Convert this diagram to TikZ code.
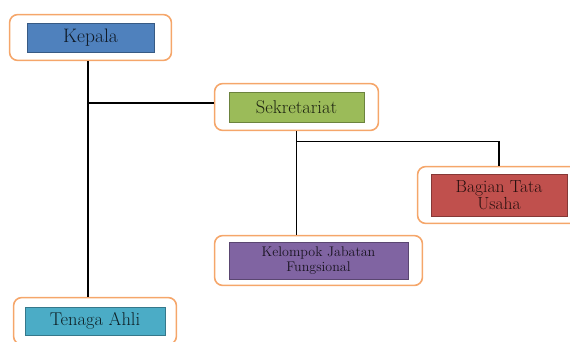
\documentclass[tikz,border=0pt]{standalone}
\usepackage{fontspec}
\usepackage{tikz}
\usetikzlibrary{fit,positioning,calc}
\definecolor{framecol}{HTML}{F5A66A}
\definecolor{kepcol}{HTML}{4F81BD}
\definecolor{sekcol}{HTML}{9BBB59}
\definecolor{bagcol}{HTML}{C0504D}
\definecolor{kelcol}{HTML}{8064A2}
\definecolor{tencol}{HTML}{4BACC6}
\tikzset{
  unit/.style={draw=#1!70!black,fill=#1,line width=0.8pt,text=#1!20!black,
    inner sep=0pt,align=center},
  frame/.style={draw=framecol,line width=1.6pt,rounded corners=8pt,
    inner xsep=14pt,inner ysep=8pt},
  link/.style={line width=1.2pt,black}
}
\begin{document}
\begin{tikzpicture}[x=1pt,y=-1pt]
    \useasboundingbox (0,0) rectangle (570,341);
    \clip (0,0) rectangle (570,341);
    % boxes
    \node[unit=kepcol,minimum width=127pt,minimum height=29pt,font=\fontsize{19.5}{21}\selectfont] (kepala) at (90.5,37.5) {Kepala};
    \node[unit=sekcol,minimum width=135pt,minimum height=30pt,font=\fontsize{18.5}{20}\selectfont] (sekr) at (296.5,107) {Sekretariat};
    \node[unit=bagcol,minimum width=136pt,minimum height=42pt,font=\fontsize{17.5}{17.5}\selectfont] (bagian) at (499,195) {Bagian Tata\\Usaha};
    \node[unit=kelcol,minimum width=179pt,minimum height=37pt,font=\fontsize{14}{15}\selectfont] (kelompok) at (318.5,260.5) {Kelompok Jabatan\\Fungsional};
    \node[unit=tencol,minimum width=140pt,minimum height=28pt,font=\fontsize{18.5}{20}\selectfont] (tenaga) at (95,321) {Tenaga Ahli};
    % frames
    \node[frame,inner xsep=17pt,fit=(kepala)] (kepalaF) {};
    \node[frame,fit=(sekr)] (sekrF) {};
    \node[frame,inner xsep=13pt,inner ysep=7pt,fit=(bagian)] (bagianF) {};
    \node[frame,inner ysep=6pt,fit=(kelompok)] (kelompokF) {};
    \node[frame,inner xsep=11pt,inner ysep=9pt,fit=(tenaga)] (tenagaF) {};
    % lines
    \coordinate (spine) at (88,0);
    \draw[link] (kepalaF.south -| spine) -- (tenagaF.north -| spine);
    \draw[link] (spine |- sekrF.west) ++(0,-4) -- ([yshift=4pt]sekrF.west);
    \draw[link] (sekrF.south) -- (sekrF.south |- kelompokF.north);
    \draw[link] ($(sekrF.south)+(0,10)$) -| (bagianF.north);
\end{tikzpicture}
\end{document}
